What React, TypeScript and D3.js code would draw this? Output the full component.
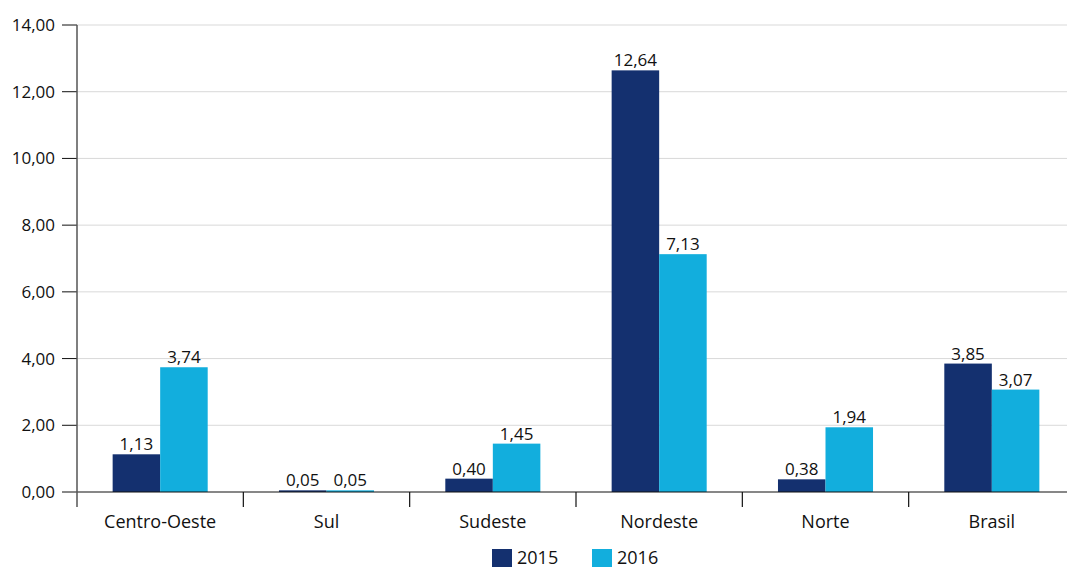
import React from "react";
import * as d3 from "d3";

const categories = ["Centro-Oeste", "Sul", "Sudeste", "Nordeste", "Norte", "Brasil"];
const series = ["2015", "2016"];
const values2015 = [1.13, 0.05, 0.4, 12.64, 0.38, 3.85];
const values2016 = [3.74, 0.05, 1.45, 7.13, 1.94, 3.07];
const yTicks = [0, 2, 4, 6, 8, 10, 12, 14];

const colors: Record<string, string> = { "2015": "#14306f", "2016": "#12aedd" };
const font = "'Open Sans', 'Noto Sans', sans-serif";
const ink = "#111";

const fmt = (v: number) => v.toFixed(2).replace(".", ",");

const App: React.FC = () => {
  const width = 1067;
  const height = 568;
  const margin = { top: 25, left: 77, bottom: 76 };
  const plotRight = 1075;

  const x = d3.scaleBand().domain(categories).range([margin.left, plotRight]).padding(0);
  const xInner = d3
    .scaleBand()
    .domain(series)
    .range([0, x.bandwidth()])
    .paddingInner(0)
    .paddingOuter(0.75);
  const y = d3.scaleLinear().domain([0, 14]).range([height - margin.bottom, margin.top]);

  const data = series.map((s) => ({
    key: s,
    values: s === "2015" ? values2015 : values2016,
  }));

  const y0 = y(0);

  return (
    <div style={{ position: "fixed", left: 0, top: 0 }}>
      <svg width={width} height={height} style={{ display: "block", background: "#fff" }}>
        {/* grid + y ticks */}
        {yTicks.map((t) => (
          <g key={t}>
            {t !== 0 && (
              <line x1={margin.left} x2={plotRight} y1={y(t)} y2={y(t)} stroke="#d9d9d9" strokeWidth={1} />
            )}
            <line x1={62} x2={margin.left} y1={y(t)} y2={y(t)} stroke={ink} strokeWidth={1} />
            <text
              x={55}
              y={y(t)}
              dy="0.35em"
              textAnchor="end"
              fontFamily={font}
              fontSize={17}
              fill={ink}
            >
              {fmt(t)}
            </text>
          </g>
        ))}

        {/* bars */}
        {data.map((s) =>
          s.values.map((v, i) => {
            const bx = (x(categories[i]) || 0) + (xInner(s.key) || 0);
            return (
              <g key={s.key + i}>
                <rect
                  x={bx}
                  y={y(v)}
                  width={xInner.bandwidth()}
                  height={y0 - y(v)}
                  fill={colors[s.key]}
                />
                <text
                  x={bx + xInner.bandwidth() / 2}
                  y={y(v) - 4}
                  textAnchor="middle"
                  fontFamily={font}
                  fontSize={17}
                  fill={ink}
                >
                  {fmt(v)}
                </text>
              </g>
            );
          })
        )}

        {/* axes */}
        <line x1={margin.left} x2={plotRight} y1={y0} y2={y0} stroke={ink} strokeWidth={1.2} />
        <line x1={margin.left} x2={margin.left} y1={margin.top} y2={y0 + 15} stroke="#555" strokeWidth={1.5} />
        {categories.map((c, i) => (
          <g key={c}>
            {i > 0 && (
              <line
                x1={x(c)}
                x2={x(c)}
                y1={y0}
                y2={y0 + 15}
                stroke={ink}
                strokeWidth={1.2}
              />
            )}
            <text
              x={(x(c) || 0) + x.bandwidth() / 2}
              y={y0 + 36}
              textAnchor="middle"
              fontFamily={font}
              fontSize={18}
              fill={ink}
            >
              {c}
            </text>
          </g>
        ))}

        {/* legend */}
        {series.map((s, i) => (
          <g key={s} transform={`translate(${492 + i * 100},549)`}>
            <rect x={0} y={0} width={20} height={18} fill={colors[s]} />
            <text x={25} y={9} dy="0.35em" fontFamily={font} fontSize={18} fill={ink}>
              {s}
            </text>
          </g>
        ))}
      </svg>
    </div>
  );
};

export default App;
